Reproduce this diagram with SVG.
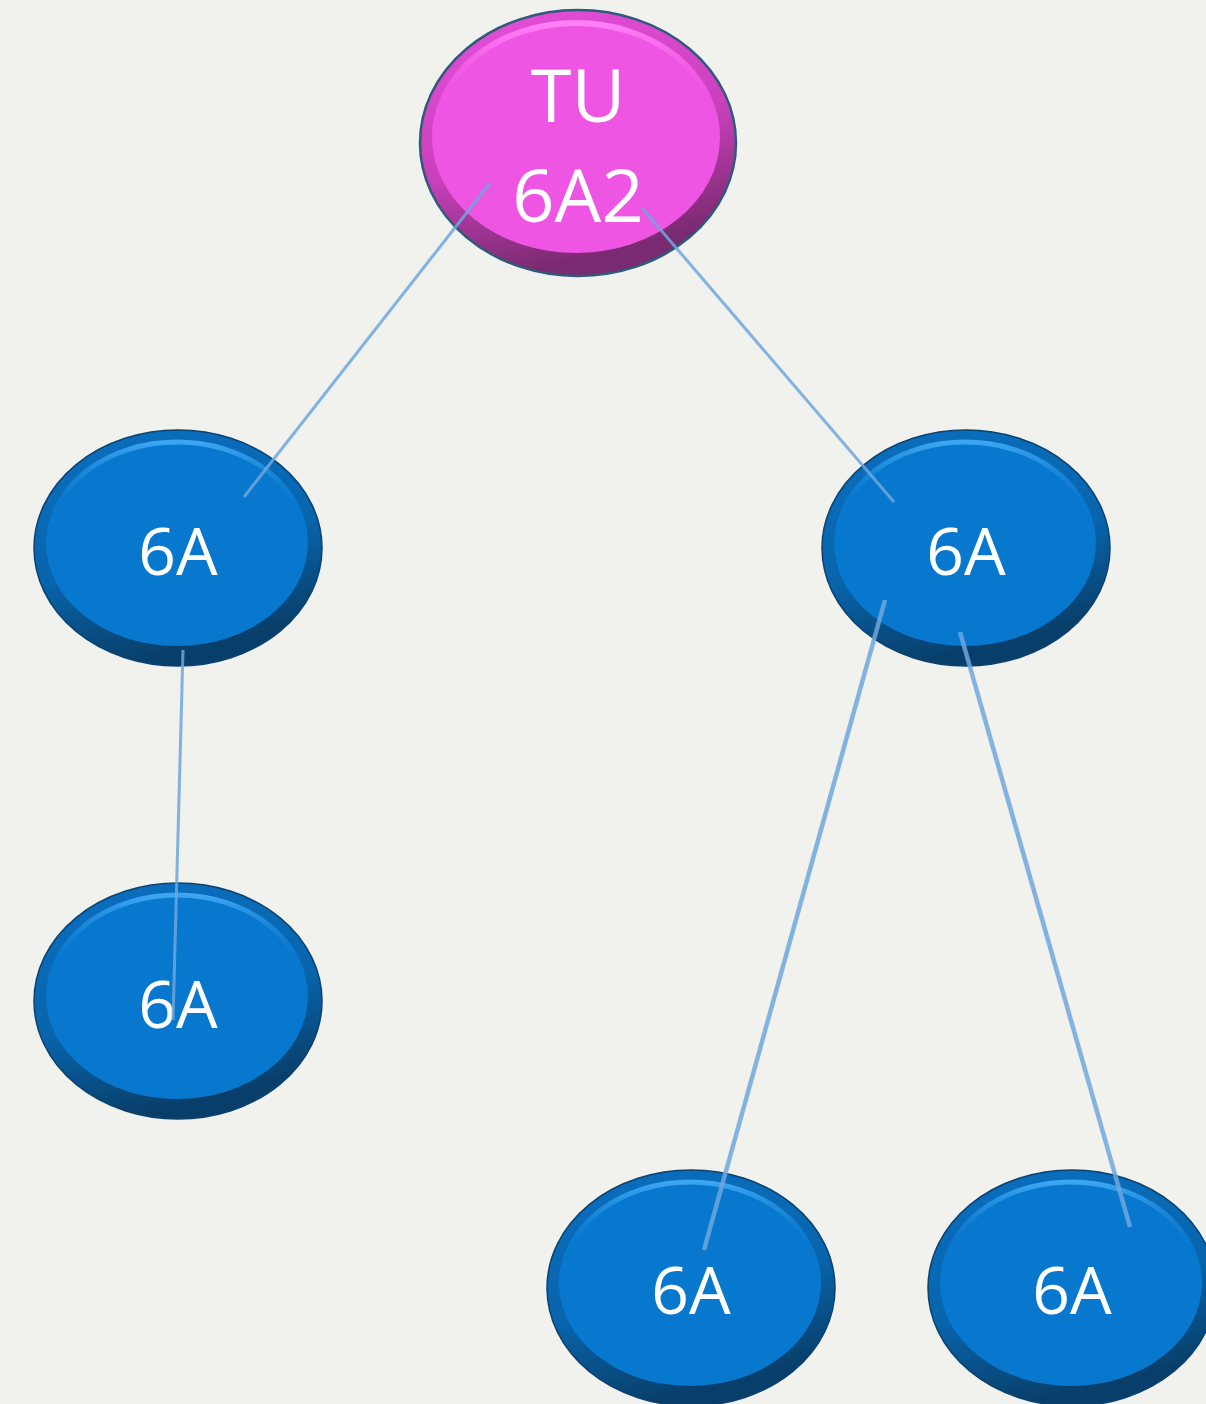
<svg xmlns="http://www.w3.org/2000/svg" width="1206" height="1404" viewBox="0 0 1206 1404">
<defs>
<linearGradient id="blueRim" x1="0" y1="0" x2="0.3" y2="1">
<stop offset="0" stop-color="#0a6fc0"/>
<stop offset="0.6" stop-color="#0865ad"/>
<stop offset="1" stop-color="#083f6a"/>
</linearGradient>
<linearGradient id="blueHi" x1="0" y1="0" x2="0" y2="1">
<stop offset="0" stop-color="#3ca6f2"/>
<stop offset="0.35" stop-color="#0a78cc" stop-opacity="0"/>
<stop offset="1" stop-color="#0a78cc" stop-opacity="0"/>
</linearGradient>
<linearGradient id="pinkRim" x1="0" y1="0" x2="0.3" y2="1">
<stop offset="0" stop-color="#e84fdc"/>
<stop offset="0.6" stop-color="#c840ba"/>
<stop offset="1" stop-color="#7a2a70"/>
</linearGradient>
<linearGradient id="pinkHi" x1="0" y1="0" x2="0" y2="1">
<stop offset="0" stop-color="#ff80f8"/>
<stop offset="0.35" stop-color="#ef55e3" stop-opacity="0"/>
<stop offset="1" stop-color="#ef55e3" stop-opacity="0"/>
</linearGradient>
</defs>
<style>
.bg{fill:#f1f1ee}
.rimB{fill:url(#blueRim);stroke:#0b4270;stroke-width:1.5}
.innB{fill:#0878cf}
.hiB{fill:none;stroke:url(#blueHi);stroke-width:5}
.rimP{fill:url(#pinkRim);stroke:#2f5a7a;stroke-width:2.5}
.innP{fill:#ef55e3}
.hiP{fill:none;stroke:url(#pinkHi);stroke-width:6}
.lbl{font-family:"Open Sans","Noto Sans","DejaVu Sans",sans-serif;fill:#ffffff;text-anchor:middle}
.b{font-size:66px}
.p{font-size:74px}
.edge{stroke:#6fa7dc;stroke-width:3;stroke-opacity:0.85;fill:none}
.thick{stroke-width:4.5}
</style>
<rect class="bg" x="0" y="0" width="1206" height="1404"/>
<g id="n-root">
<ellipse class="rimP" cx="578" cy="143" rx="158" ry="133"/>
<ellipse class="innP" cx="576" cy="137" rx="144" ry="116"/>
<ellipse class="hiP" cx="576" cy="137" rx="142" ry="114"/>
<text class="lbl p" x="578" y="122">TU</text>
<text class="lbl p" x="578" y="222">6A2</text>
</g>
<g id="n-l1">
<ellipse class="rimB" cx="178" cy="548" rx="144" ry="118"/>
<ellipse class="innB" cx="177" cy="543" rx="131" ry="103"/>
<ellipse class="hiB" cx="177" cy="543" rx="129" ry="101"/>
<text class="lbl b" x="178" y="575">6A</text>
</g>
<g id="n-l2">
<ellipse class="rimB" cx="178" cy="1001" rx="144" ry="118"/>
<ellipse class="innB" cx="177" cy="996" rx="131" ry="103"/>
<ellipse class="hiB" cx="177" cy="996" rx="129" ry="101"/>
<text class="lbl b" x="178" y="1028">6A</text>
</g>
<g id="n-r1">
<ellipse class="rimB" cx="966" cy="548" rx="144" ry="118"/>
<ellipse class="innB" cx="965" cy="543" rx="131" ry="103"/>
<ellipse class="hiB" cx="965" cy="543" rx="129" ry="101"/>
<text class="lbl b" x="966" y="575">6A</text>
</g>
<g id="n-b1">
<ellipse class="rimB" cx="691" cy="1288" rx="144" ry="118"/>
<ellipse class="innB" cx="690" cy="1283" rx="131" ry="103"/>
<ellipse class="hiB" cx="690" cy="1283" rx="129" ry="101"/>
<text class="lbl b" x="691" y="1314">6A</text>
</g>
<g id="n-b2">
<ellipse class="rimB" cx="1072" cy="1288" rx="144" ry="118"/>
<ellipse class="innB" cx="1071" cy="1283" rx="131" ry="103"/>
<ellipse class="hiB" cx="1071" cy="1283" rx="129" ry="101"/>
<text class="lbl b" x="1072" y="1314">6A</text>
</g>
<g id="connectors">
<line class="edge" x1="490" y1="183" x2="244" y2="497"/>
<line class="edge" x1="642" y1="208" x2="894" y2="502"/>
<line class="edge" x1="183" y1="650" x2="173" y2="1020"/>
<line class="edge thick" x1="885" y1="600" x2="704" y2="1250"/>
<line class="edge thick" x1="960" y1="632" x2="1130" y2="1227"/>
</g>
</svg>
